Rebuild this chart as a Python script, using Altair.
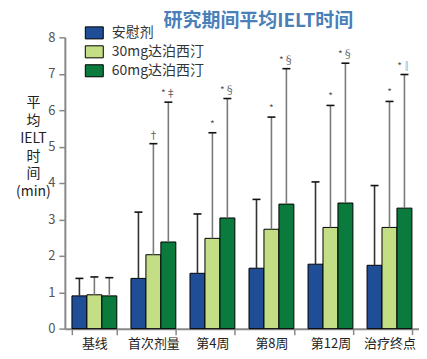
import altair as alt
import pandas as pd

title_text = "研究期间平均IELT时间"
categories = ["基线", "首次剂量", "第4周", "第8周", "第12周", "治疗终点"]
series = ["安慰剂", "30mg达泊西汀", "60mg达泊西汀"]
colors = ["#1f4e96", "#c3de84", "#0b7a3d"]
err_colors = ["#333333", "#7a7a7a", "#7a7a7a"]

placebo = [0.90, 1.38, 1.52, 1.66, 1.77, 1.74]
mg30 = [0.93, 2.03, 2.48, 2.73, 2.78, 2.78]
mg60 = [0.90, 2.38, 3.04, 3.42, 3.45, 3.31]

placebo_hi = [1.38, 3.20, 3.15, 3.55, 4.03, 3.93]
mg30_hi = [1.42, 5.08, 5.38, 5.81, 6.13, 6.24]
mg60_hi = [1.40, 6.22, 6.32, 7.14, 7.29, 6.98]

placebo_sig = ["", "", "", "", "", ""]
mg30_sig = ["", "†", "*", "*", "*", "*"]
mg60_sig = ["", "*‡", "*§", "*§", "*§", "*‖"]

y_ticks = [0, 1, 2, 3, 4, 5, 6, 7, 8]

rows = []
for s, vals, his, sigs, ec in [
    (series[0], placebo, placebo_hi, placebo_sig, err_colors[0]),
    (series[1], mg30, mg30_hi, mg30_sig, err_colors[1]),
    (series[2], mg60, mg60_hi, mg60_sig, err_colors[2]),
]:
    for c, v, h, g in zip(categories, vals, his, sigs):
        rows.append({"cat": c, "series": s, "val": v, "hi": h, "sig": g, "ecol": ec})
df = pd.DataFrame(rows)

FONT = "Noto Sans CJK SC"

y_axis = alt.Axis(
    values=y_ticks,
    labelOverlap=False,
    title=["平", "均", "IELT", "时", "间", "(min)"],
    titleAngle=0,
    titleX=-32,
    titleY=58,
    titleAlign="center",
    titleBaseline="top",
    titleLineHeight=18,
    titleFontSize=14,
    titleFontWeight="normal",
    titleColor="#222",
    labelFontSize=13,
    labelColor="#555",
    labelPadding=4,
    tickColor="#888",
    tickSize=6,
    tickWidth=1.5,
    domainColor="#888",
    domainWidth=2,
    grid=False,
)
y_scale = alt.Scale(domain=[0, 8])

base = alt.Chart(df).encode(
    x=alt.X(
        "cat:N",
        sort=categories,
        scale=alt.Scale(paddingInner=0.24, paddingOuter=0.12),
        axis=alt.Axis(
            title=None,
            labelAngle=0,
            labelFontSize=13,
            labelColor="#222",
            labelPadding=3,
            tickBand="extent",
            tickSize=6,
            tickColor="#888",
            tickWidth=1.5,
            domainColor="#888",
            domainWidth=2,
        ),
    ),
    xOffset=alt.XOffset("series:N", sort=series, scale=alt.Scale(paddingInner=0, paddingOuter=0)),
)

bars = base.mark_bar(stroke="black", strokeWidth=1).encode(
    y=alt.Y("val:Q", scale=y_scale, axis=y_axis),
    color=alt.Color(
        "series:N",
        sort=series,
        scale=alt.Scale(domain=series, range=colors),
        legend=alt.Legend(
            title=None,
            orient="none",
            legendX=20,
            legendY=-14,
            symbolType="M-1,-0.67H1V0.67H-1Z",
            symbolSize=324,
            symbolStrokeColor="black",
            symbolStrokeWidth=1,
            labelFontSize=14,
            labelColor="#333",
            rowPadding=1,
            labelOffset=8,
        ),
    ),
)

rules = base.mark_rule(strokeWidth=1.6).encode(
    y=alt.Y("val:Q", scale=y_scale, axis=y_axis),
    y2="hi:Q",
    stroke=alt.Stroke("ecol:N", scale=None),
)

caps = base.mark_point(shape="M-1,0L1,0", size=64, filled=False, strokeWidth=1.6, color="#111", opacity=1).encode(
    y=alt.Y("hi:Q", scale=y_scale, axis=y_axis)
)

labels = base.mark_text(dy=-8, fontSize=10, color="#555").encode(
    y=alt.Y("hi:Q", scale=y_scale, axis=y_axis), text="sig:N"
)

title = alt.Chart(pd.DataFrame({"t": [title_text]})).mark_text(
    fontSize=19, fontWeight="bold", color="#4a7fb8", align="center", baseline="middle"
).encode(x=alt.value(194), y=alt.value(-16), text="t:N")

chart = (
    alt.layer(bars, rules, caps, labels, title)
    .properties(
        width=355,
        height=292,
        autosize=alt.AutoSizeParams(type="none"),
        padding={"left": 57, "top": 29, "right": 0, "bottom": 30},
    )
    .configure(font=FONT)
    .configure_view(stroke=None)
)

chart.save("out.html", embed_options={"renderer": "svg", "actions": False})
